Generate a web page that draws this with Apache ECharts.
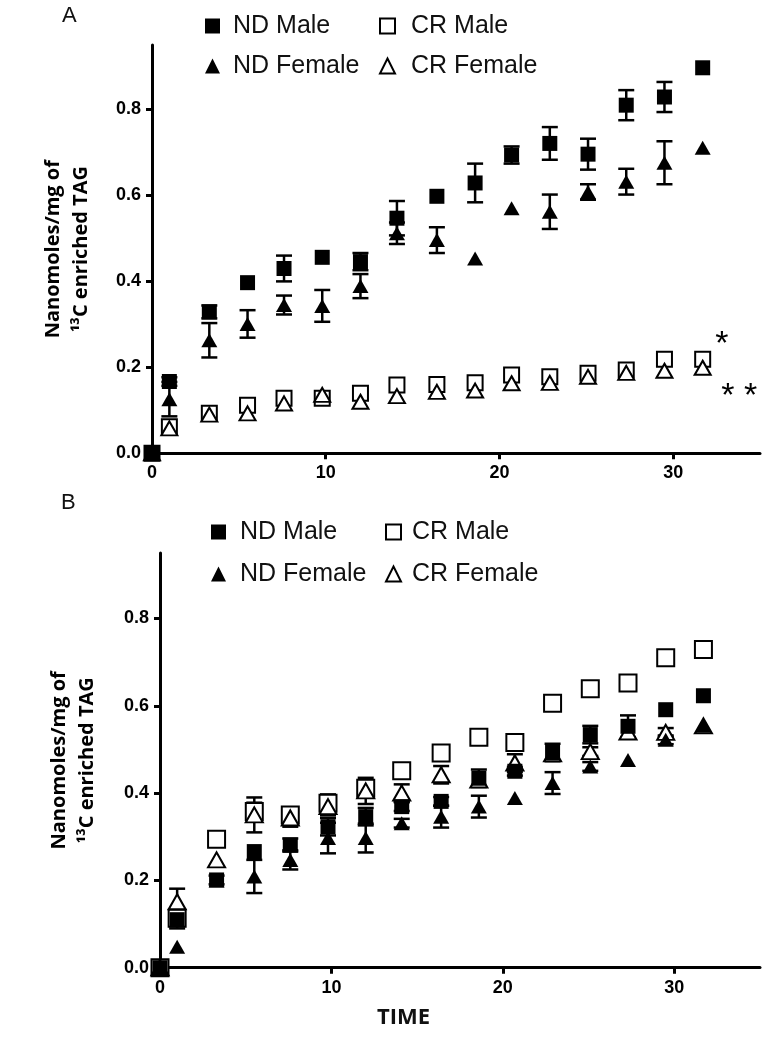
<!DOCTYPE html>
<html>
<head>
<meta charset="utf-8">
<script src="https://cdn.jsdelivr.net/npm/echarts@6/dist/echarts.min.js"></script>
<style>
html,body{margin:0;padding:0;background:#fff;}
#chart{width:766px;height:1037px;}
</style>
</head>
<body>
<div id="chart"></div>
<script>
// ---- data ----
const times = [0, 1.0, 3.3, 5.5, 7.6, 9.8, 12.0, 14.1, 16.4, 18.6, 20.7, 22.9, 25.1, 27.3, 29.5, 31.7];

// Panel A
const aNDMale      = [0, 0.167, 0.329, 0.397, 0.430, 0.456, 0.446, 0.547, 0.598, 0.629, 0.694, 0.721, 0.696, 0.810, 0.829, 0.897];
const aNDMaleErr   = [0, 0.010, 0.015, 0, 0.030, 0, 0.020, 0.040, 0, 0.045, 0.020, 0.038, 0.036, 0.035, 0.035, 0];
const aNDFemale    = [0, 0.126, 0.263, 0.301, 0.345, 0.343, 0.389, 0.512, 0.496, 0.453, 0.570, 0.562, 0.608, 0.632, 0.676, 0.711];
const aNDFemaleErr = [0, 0.040, 0.040, 0.032, 0.022, 0.037, 0.028, 0.025, 0.030, 0, 0, 0.040, 0.018, 0.030, 0.050, 0];
const aCRMale      = [0, 0.062, 0.093, 0.112, 0.128, 0.128, 0.140, 0.159, 0.160, 0.164, 0.182, 0.178, 0.186, 0.194, 0.219, 0.219];
const aCRFemale    = [0, 0.058, 0.090, 0.093, 0.116, 0.136, 0.120, 0.133, 0.143, 0.146, 0.163, 0.164, 0.178, 0.187, 0.192, 0.199];

// Panel B
const bNDMale      = [0, 0.110, 0.201, 0.266, 0.281, 0.323, 0.346, 0.369, 0.381, 0.434, 0.450, 0.493, 0.534, 0.553, 0.591, 0.623];
const bNDMaleErr   = [0, 0.020, 0.010, 0, 0.015, 0.020, 0.020, 0.010, 0.010, 0.020, 0.010, 0.020, 0.020, 0.025, 0, 0];
const bNDFemale    = [0, 0.048, 0.200, 0.209, 0.247, 0.297, 0.297, 0.331, 0.346, 0.369, 0.389, 0.423, 0.461, 0.476, 0.522, 0.554];
const bNDFemaleErr = [0, 0, 0, 0.038, 0.022, 0.035, 0.033, 0.010, 0.025, 0.025, 0, 0.025, 0.010, 0, 0.010, 0];
const bCRMale      = [0, 0.113, 0.294, 0.358, 0.350, 0.377, 0.411, 0.451, 0.492, 0.528, 0.516, 0.606, 0.639, 0.652, 0.710, 0.729];
const bCRMaleErr   = [0, 0, 0, 0.020, 0.015, 0.020, 0.010, 0, 0, 0, 0, 0, 0, 0, 0.010, 0];
const bCRFemale    = [0, 0.151, 0.247, 0.350, 0.343, 0.369, 0.405, 0.400, 0.442, 0.430, 0.469, 0.490, 0.495, 0.540, 0.539, 0.554];
const bCRFemaleErr = [0, 0.030, 0, 0.040, 0.020, 0.020, 0.030, 0.020, 0.020, 0, 0.020, 0, 0.010, 0, 0.010, 0];

const xTicks = [0, 10, 20, 30];
const yTicks = [0, 0.2, 0.4, 0.6, 0.8];
const seriesNames = ['ND Male', 'CR Male', 'ND Female', 'CR Female'];
const yTitle = 'Nanomoles/mg of\n\u00B9\u00B3C enriched TAG';
const sigOne = [32.8, 0.252];   // "*" annotation position (data coords)
const sigTwo = [33.8, 0.133];   // "* *" annotation position

// ---- helpers ----
function pts(vals){ return times.map((t,i)=>[t, vals[i]]); }
function errPts(vals, errs){
  const out = [];
  times.forEach((t,i)=>{ if (errs[i] > 0) out.push([t, vals[i]-errs[i], vals[i]+errs[i]]); });
  return out;
}
function errSeries(idx, vals, errs, capW){
  return {
    type:'custom', xAxisIndex:idx, yAxisIndex:idx, z:1, silent:true,
    data: errPts(vals, errs),
    encode:{x:0, y:[1,2]},
    renderItem(params, api){
      const x = api.value(0);
      const lo = api.coord([x, api.value(1)]);
      const hi = api.coord([x, api.value(2)]);
      const st = {stroke:'#000', lineWidth:2.5};
      return {type:'group', children:[
        {type:'line', shape:{x1:lo[0], y1:lo[1], x2:hi[0], y2:hi[1]}, style:st},
        {type:'line', shape:{x1:lo[0]-capW, y1:lo[1], x2:lo[0]+capW, y2:lo[1]}, style:st},
        {type:'line', shape:{x1:hi[0]-capW, y1:hi[1], x2:hi[0]+capW, y2:hi[1]}, style:st}
      ]};
    }
  };
}
const filled = {color:'#000', opacity:1};
const open = {color:'#fff', borderColor:'#000', borderWidth:2, opacity:1};

function scatter(idx, name, vals, symbol, size, style, z, extra){
  return Object.assign({
    type:'scatter', name, xAxisIndex:idx, yAxisIndex:idx, z,
    symbol, symbolSize:size, itemStyle:style, data: pts(vals),
    emphasis:{disabled:true}
  }, extra || {});
}

const axisLineStyle = {color:'#000', width:3};
function xAxisCfg(idx){
  return {
    type:'value', gridIndex:idx, min:0, max:35, interval:10,
    axisLine:{show:true, lineStyle:axisLineStyle},
    axisTick:{show:true, length:6, lineStyle:{color:'#000', width:3}, customValues:xTicks},
    axisLabel:{fontFamily:'Liberation Sans', fontWeight:'bold', fontSize:18, color:'#000', margin:11, customValues:xTicks},
    splitLine:{show:false}
  };
}
function yAxisCfg(idx, gap){
  return {
    type:'value', gridIndex:idx, min:0, max:0.95, interval:0.2,
    axisLine:{show:true, lineStyle:axisLineStyle},
    axisTick:{show:true, length:6, lineStyle:{color:'#000', width:3}, customValues:yTicks},
    axisLabel:{fontFamily:'Liberation Sans', fontWeight:'bold', fontSize:18, color:'#000', margin:11,
      customValues:yTicks, formatter:v=>v.toFixed(1)},
    splitLine:{show:false},
    name: yTitle, nameLocation:'middle', nameGap:gap, nameRotate:90,
    nameTextStyle:{fontFamily:'Open Sans', fontWeight:'bold', fontSize:20, lineHeight:28, color:'#000', align:'center'}
  };
}
function legendCfg(name, left, top, pad){
  return {
    data:[name], left, top, itemWidth:15, itemHeight:15, selectedMode:false,
    textStyle:{fontFamily:'Liberation Sans', fontSize:25, color:'#111', padding:[0,0,0,pad], lineHeight:28}
  };
}

const option = {
  animation:false,
  backgroundColor:'#fff',
  grid:[
    {left:152, top:45, width:608, height:408.3},
    {left:160, top:553, width:600, height:414.7}
  ],
  xAxis:[xAxisCfg(0), xAxisCfg(1)],
  yAxis:[yAxisCfg(0, 57), yAxisCfg(1, 59)],
  legend:[
    legendCfg('ND Male', 200, 7, 8),
    legendCfg('CR Male', 374, 7, 11),
    legendCfg('ND Female', 200, 47, 8),
    legendCfg('CR Female', 374, 47, 11),
    legendCfg('ND Male', 206, 513, 9),
    legendCfg('CR Male', 380, 513, 6),
    legendCfg('ND Female', 206, 555, 9),
    legendCfg('CR Female', 380, 555, 6)
  ],
  graphic:[
    {type:'text', left:62, top:5, style:{text:'A', fontFamily:'Liberation Sans', fontSize:22, fill:'#111'}},
    {type:'text', left:61, top:492, style:{text:'B', fontFamily:'Liberation Sans', fontSize:22, fill:'#111'}},
    {type:'text', left:377, top:1007, style:{text:'TIME', fontFamily:'Open Sans', fontWeight:'bold', fontSize:22, fill:'#111'}}
  ],
  series:[
    errSeries(0, aNDMale, aNDMaleErr, 8),
    errSeries(0, aNDFemale, aNDFemaleErr, 8),
    scatter(0, 'CR Male', aCRMale, 'rect', 15, open, 2, {
      markPoint:{
        symbol:'rect', symbolSize:1, itemStyle:{color:'rgba(0,0,0,0)'}, silent:true,
        label:{show:true, position:'inside', formatter:p=>p.name, fontFamily:'Liberation Sans', fontSize:34, color:'#000'},
        data:[{name:'*', coord:sigOne}, {name:'* *', coord:sigTwo}]
      }
    }),
    scatter(0, 'CR Female', aCRFemale, 'triangle', [16,14], open, 3),
    scatter(0, 'ND Female', aNDFemale, 'triangle', [16,14], filled, 4),
    scatter(0, 'ND Male', aNDMale, 'rect', 15, filled, 5),

    errSeries(1, bNDMale, bNDMaleErr, 8),
    errSeries(1, bNDFemale, bNDFemaleErr, 8),
    errSeries(1, bCRMale, bCRMaleErr, 8),
    errSeries(1, bCRFemale, bCRFemaleErr, 8),
    scatter(1, 'CR Male', bCRMale, 'rect', 17, open, 2),
    scatter(1, 'CR Female', bCRFemale, 'triangle', [17,15], open, 3),
    scatter(1, 'ND Female', bNDFemale, 'triangle', [16,14], filled, 4),
    scatter(1, 'ND Male', bNDMale, 'rect', 15, filled, 5)
  ]
};

const chart = echarts.init(document.getElementById('chart'), null, {renderer:'canvas'});
chart.setOption(option);
</script>
</body>
</html>
